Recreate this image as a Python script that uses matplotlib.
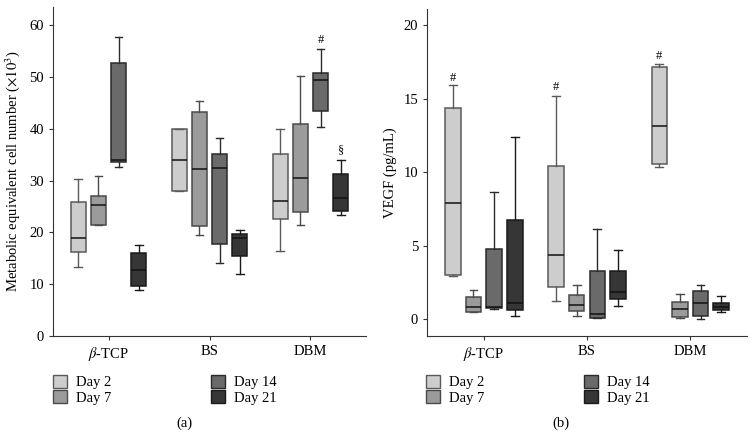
import numpy as np
import matplotlib
matplotlib.use("Agg")
import matplotlib.pyplot as plt
from matplotlib.patches import Patch

plt.rcParams['font.family'] = ['Liberation Serif', 'DejaVu Serif']
plt.rcParams['mathtext.fontset'] = 'stix'

# grupos y dias
grupos = [r'$\beta$-TCP', 'BS', 'DBM']
dias = ['Day 2', 'Day 7', 'Day 14', 'Day 21']
colores = ['#cdcdcd', '#9b9b9b', '#6a6a6a', '#363636']
bordes = ['#5a5a5a', '#4a4a4a', '#2a2a2a', '#1a1a1a']

# (a) celulas: por grupo, por dia -> [whislo, q1, med, q3, whishi]
celulas = [
    [[13.4, 16.2, 19.0, 25.8, 30.3],
     [21.5, 21.5, 25.3, 27.1, 30.8],
     [32.7, 33.6, 34.0, 52.7, 57.7],
     [8.8, 9.7, 12.7, 16.1, 17.6]],
    [[28.0, 28.0, 34.0, 39.9, 39.9],
     [19.4, 21.2, 32.2, 43.3, 45.3],
     [14.1, 17.8, 32.5, 35.2, 38.2],
     [12.0, 15.4, 18.9, 19.6, 20.4]],
    [[16.5, 22.6, 26.0, 35.1, 39.9],
     [21.5, 23.9, 30.4, 40.9, 50.1],
     [40.3, 43.5, 49.5, 50.8, 55.4],
     [23.3, 24.1, 26.6, 31.2, 34.0]],
]

# (b) VEGF
vegf = [
    [[2.94, 3.01, 7.93, 14.34, 15.92],
     [0.48, 0.52, 0.84, 1.52, 2.02],
     [0.70, 0.75, 0.84, 4.76, 8.67],
     [0.23, 0.63, 1.09, 6.73, 12.39]],
    [[1.25, 2.22, 4.35, 10.4, 15.2],
     [0.23, 0.54, 0.95, 1.68, 2.33],
     [0.09, 0.11, 0.34, 3.26, 6.16],
     [0.93, 1.38, 1.83, 3.26, 4.69]],
    [[10.35, 10.55, 13.11, 17.12, 17.37],
     [0.11, 0.16, 0.68, 1.16, 1.70],
     [0.0, 0.23, 1.13, 1.93, 2.33],
     [0.48, 0.63, 0.84, 1.11, 1.56]],
]

# marcas de significancia: (grupo, dia, simbolo, y)
marcas_a = [(2, 2, '#', 57.2), (2, 3, '\u00a7', 35.9)]
marcas_b = [(0, 0, '#', 16.4), (1, 0, '#', 15.8), (2, 0, '#', 17.9)]

offsets = [-0.3, -0.1, 0.1, 0.3]


def cajas(ax, datos, marcas, ylim, yticks, ylabel):
    for g, grupo in enumerate(datos):
        for d, v in enumerate(grupo):
            st = {'whislo': v[0], 'q1': v[1], 'med': v[2], 'q3': v[3],
                  'whishi': v[4], 'fliers': []}
            ec = bordes[d]
            ax.bxp([st], positions=[g + 1 + offsets[d]], widths=0.15,
                   patch_artist=True, showfliers=False,
                   boxprops=dict(facecolor=colores[d], edgecolor=ec, linewidth=1.1),
                   medianprops=dict(color='#111111', linewidth=1.1),
                   whiskerprops=dict(color=ec, linewidth=1.0),
                   capprops=dict(color=ec, linewidth=1.0))
    for g, d, s, y in marcas:
        ax.text(g + 1 + offsets[d], y, s, ha='center', va='center', fontsize=9)
    ax.set_xlim(0.45, 3.55)
    ax.set_ylim(*ylim)
    ax.set_xticks([1, 2, 3])
    ax.set_xticklabels(grupos, fontsize=10.5)
    ax.set_yticks(yticks)
    ax.tick_params(labelsize=10.5, length=3, color='#333333')
    ax.set_ylabel(ylabel, fontsize=10.5)
    for s in ['top', 'right']:
        ax.spines[s].set_visible(False)
    for s in ['left', 'bottom']:
        ax.spines[s].set_color('#333333')


fig = plt.figure(figsize=(7.55, 4.37), dpi=100)
ax1 = fig.add_axes([0.0702, 0.2311, 0.4146, 0.7529])
ax2 = fig.add_axes([0.5656, 0.2311, 0.4238, 0.7483])

cajas(ax1, celulas, marcas_a, (0, 63.5), np.arange(0, 61, 10),
      r'Metabolic equivalent cell number ($\times 10^3$)')
cajas(ax2, vegf, marcas_b, (-1.13, 21.08), np.arange(0, 21, 5), 'VEGF (pg/mL)')
ax1.yaxis.set_label_coords(-0.1, 0.5)
ax2.yaxis.set_label_coords(-0.095, 0.5)

handles = [Patch(facecolor=c, edgecolor=e, linewidth=1.0) for c, e in zip(colores, bordes)]
for x0 in [0.070, 0.564]:
    fig.legend(handles, dias, loc='upper left', bbox_to_anchor=(x0, 0.142),
               ncol=2, frameon=False, fontsize=10.5, handlelength=1.0,
               handleheight=1.0, handletextpad=0.6, columnspacing=6.8,
               labelspacing=0.05, borderaxespad=0, borderpad=0)
fig.text(0.244, 0.032, '(a)', ha='center', va='center', fontsize=10.5)
fig.text(0.743, 0.032, '(b)', ha='center', va='center', fontsize=10.5)

fig.savefig('out.png', dpi=100)
